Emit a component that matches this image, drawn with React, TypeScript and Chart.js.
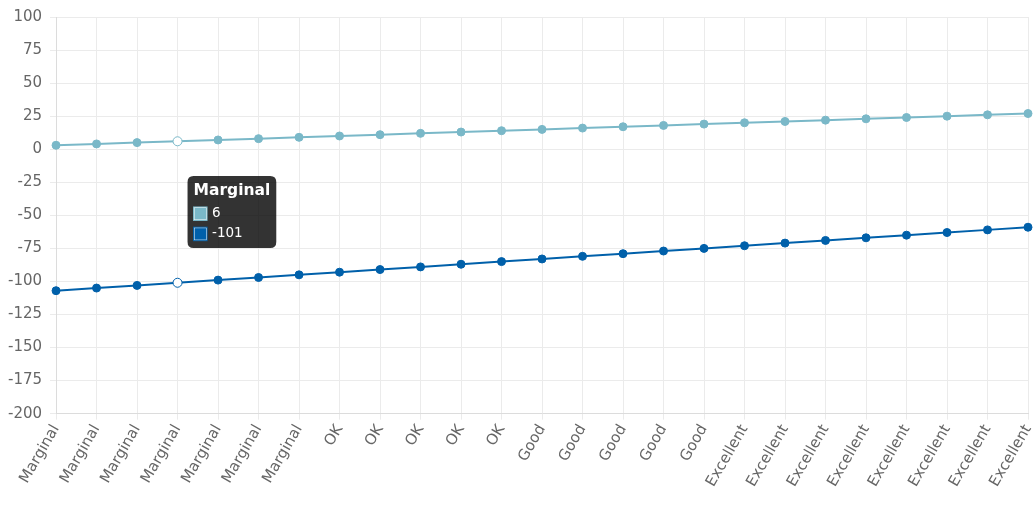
import React, { useEffect, useRef } from "react";
import { Chart, registerables } from "chart.js";

Chart.register(...registerables);

const categories = [
  "Marginal", "Marginal", "Marginal", "Marginal", "Marginal", "Marginal", "Marginal",
  "OK", "OK", "OK", "OK", "OK",
  "Good", "Good", "Good", "Good", "Good",
  "Excellent", "Excellent", "Excellent", "Excellent", "Excellent", "Excellent", "Excellent", "Excellent",
];
const seriesA = [3, 4, 5, 6, 7, 8, 9, 10, 11, 12, 13, 14, 15, 16, 17, 18, 19, 20, 21, 22, 23, 24, 25, 26, 27];
const seriesB = [-107, -105, -103, -101, -99, -97, -95, -93, -91, -89, -87, -85, -83, -81, -79, -77, -75, -73, -71, -69, -67, -65, -63, -61, -59];
const yMin = -200;
const yMax = 100;
const yStep = 25;
const activeIndex = 3;

const colorA = "rgb(122,184,200)";
const colorB = "rgb(0,96,170)";
const FONT = "'DejaVu Sans'";

export default function App() {
  const ref = useRef<HTMLCanvasElement | null>(null);
  useEffect(() => {
    document.body.style.margin = "0";
    const ctx = ref.current!;
    const mk = (data: number[], color: string) => ({
      data,
      borderColor: color,
      backgroundColor: color,
      borderWidth: 2,
      pointRadius: 4,
      pointBorderWidth: 1,
      pointBackgroundColor: color,
      pointBorderColor: color,
      pointHoverRadius: 4.5,
      pointHoverBorderWidth: 1,
      pointHoverBackgroundColor: "#ffffff",
      pointHoverBorderColor: color,
      tension: 0,
      fill: false,
    });
    const chart = new Chart(ctx, {
      type: "line",
      data: {
        labels: categories,
        datasets: [mk(seriesA, colorA), mk(seriesB, colorB)],
      },
      options: {
        responsive: false,
        animation: false,
        layout: { padding: { left: 0, right: 0, top: 8, bottom: 25 } },
        interaction: { mode: "index", intersect: false },
        plugins: {
          legend: { display: false },
          tooltip: {
            backgroundColor: "rgba(0,0,0,0.8)",
            caretSize: 0,
            caretPadding: 10,
            cornerRadius: 6,
            padding: 6,
            titleFont: { family: FONT, size: 15.5, weight: "bold" },
            bodyFont: { family: FONT, size: 13.5 },
            titleMarginBottom: 5,
            bodySpacing: 4,
            boxPadding: 3,
            callbacks: {
              label: (c: any) => String(c.parsed.y),
            },
          },
        },
        scales: {
          x: {
            grid: { color: "#ebebeb", tickLength: 6 },
            border: { color: "#dcdcdc" },
            afterFit: (s: any) => {
              s.paddingLeft = 0;
              s.paddingRight = 7;
            },
            ticks: {
              color: "#666",
              font: { family: FONT, size: 15 },
              minRotation: 60,
              maxRotation: 60,
              autoSkip: false,
              padding: 2,
            },
          },
          y: {
            min: yMin,
            max: yMax,
            grid: { color: "#ebebeb", tickLength: 6 },
            border: { color: "#dcdcdc" },
            ticks: {
              stepSize: yStep,
              color: "#666",
              font: { family: FONT, size: 15 },
              padding: 8,
            },
          },
        },
      },
    } as any);
    const els = [
      { datasetIndex: 0, index: activeIndex },
      { datasetIndex: 1, index: activeIndex },
    ];
    chart.setActiveElements(els);
    const meta0 = chart.getDatasetMeta(0).data[activeIndex] as any;
    chart.tooltip!.setActiveElements(els, { x: meta0.x, y: meta0.y });
    chart.update();
    return () => chart.destroy();
  }, []);
  return (
    <div style={{ position: "absolute", left: 0, top: 0, width: 1035, height: 517 }}>
      <canvas ref={ref} width={1035} height={517} style={{ display: "block" }} />
    </div>
  );
}
